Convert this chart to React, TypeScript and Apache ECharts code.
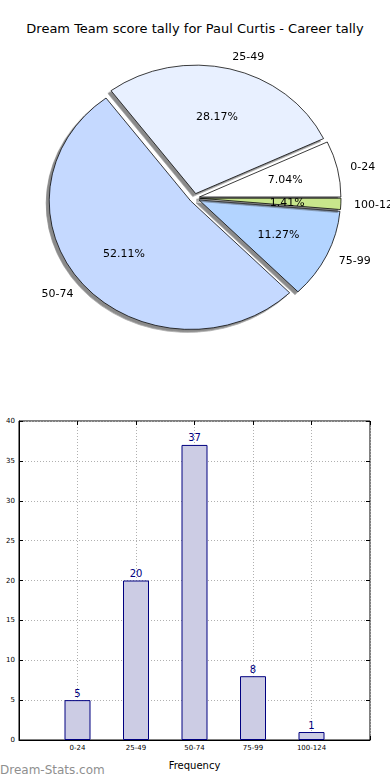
import React, { useEffect, useRef } from "react";
import * as echarts from "echarts";

const categories = ["0-24", "25-49", "50-74", "75-99", "100-124"];
const counts = [5, 20, 37, 8, 1];
const sliceColors = ["#ffffff", "#e8f0ff", "#c5d9ff", "#b3d4ff", "#c8e68c"];
const yTicks = [0, 5, 10, 15, 20, 25, 30, 35, 40];

const FONT = "DejaVu Sans";
const PIE_CX = 194.5;
const PIE_CY = 198;
const PIE_R = 141.5;
const PIE_SCALE_Y = 0.908;

export default function App() {
  const mainRef = useRef<HTMLDivElement>(null);
  const pieRef = useRef<HTMLDivElement>(null);
  useEffect(() => {
    document.body.style.margin = "0";
    const chart = echarts.init(mainRef.current!, null, { renderer: "svg" });
    const pie = echarts.init(pieRef.current!, null, { renderer: "svg" });
    const R = PIE_R;
    const center = [PIE_CX, PIE_CY];
    const pieData = categories.map((c, i) => ({
      name: c,
      value: counts[i],
      selected: true,
      itemStyle: { color: sliceColors[i] },
    }));
    const option: any = {
      animation: false,
      backgroundColor: "#ffffff",
      title: {
        text: "Dream Team score tally for Paul Curtis - Career tally",
        left: "center",
        top: 17,
        textStyle: { fontFamily: FONT, fontSize: 13, fontWeight: "normal", color: "#000" },
      },
      graphic: [
        {
          type: "text",
          left: 0,
          top: 764,
          style: {
            text: "Dream-Stats.com",
            fontFamily: FONT,
            fontSize: 12,
            fontWeight: "normal",
            fill: "#8f8f8f",
          },
        },
      ],
      grid: {
        left: 19,
        right: 20,
        top: 421,
        bottom: 40,
        show: true,
        borderColor: "#000",
        borderWidth: 1,
        backgroundColor: "transparent",
      },
      xAxis: [
        {
          type: "value",
          min: -1,
          max: 5,
          interval: 1,
          position: "bottom",
          axisLine: { show: true, onZero: false, lineStyle: { color: "#000" } },
          axisTick: { show: true, inside: true, length: 4, lineStyle: { color: "#000" } },
          axisLabel: {
            fontFamily: FONT,
            fontSize: 7,
            color: "#000",
            margin: 4,
            formatter: (v: number) => (categories[v] !== undefined ? categories[v] : ""),
          },
          splitLine: { show: true, lineStyle: { color: "#b0b0b0", type: [1, 2], width: 1 } },
          name: "Frequency",
          nameLocation: "middle",
          nameGap: 20,
          nameTextStyle: { fontFamily: FONT, fontSize: 10, color: "#000" },
        },
        {
          type: "value",
          min: -1,
          max: 5,
          interval: 1,
          position: "top",
          axisLine: { show: false, onZero: false },
          axisTick: { show: true, inside: true, length: 4, lineStyle: { color: "#000" } },
          axisLabel: { show: false },
          splitLine: { show: false },
        },
      ],
      yAxis: [
        {
          type: "value",
          min: 0,
          max: 40,
          interval: 5,
          position: "left",
          axisLine: { show: true, onZero: false, lineStyle: { color: "#000" } },
          axisTick: { show: true, inside: true, length: 4, lineStyle: { color: "#000" } },
          axisLabel: {
            fontFamily: FONT,
            fontSize: 7,
            color: "#000",
            margin: 4,
            formatter: (v: number) => (yTicks.includes(v) ? String(v) : ""),
          },
          splitLine: { show: true, lineStyle: { color: "#b0b0b0", type: [1, 2], width: 1 } },
        },
        {
          type: "value",
          min: 0,
          max: 40,
          interval: 5,
          position: "right",
          axisLine: { show: false, onZero: false },
          axisTick: { show: true, inside: true, length: 4, lineStyle: { color: "#000" } },
          axisLabel: { show: false },
          splitLine: { show: false },
        },
      ],
      series: [
        {
          type: "bar",
          xAxisIndex: 0,
          yAxisIndex: 0,
          data: counts.map((v, i) => [i, v]),
          barWidth: 26,
          itemStyle: { color: "#ccccE4", borderColor: "#000080", borderWidth: 1 },
          label: {
            show: true,
            position: "top",
            distance: 2,
            fontFamily: FONT,
            fontSize: 10,
            color: "#000080",
          },
          emphasis: { disabled: true },
          z: 1,
        },
      ],
    };
    const pieOption: any = {
      animation: false,
      series: [
        {
          type: "pie",
          center,
          radius: [0, R],
          startAngle: 0,
          clockwise: false,
          selectedMode: "multiple",
          selectedOffset: 5,
          avoidLabelOverlap: false,
          data: pieData,
          itemStyle: {
            borderColor: "#000",
            borderWidth: 0.8,
            shadowColor: "rgba(60,60,60,0.6)",
            shadowOffsetX: -3,
            shadowOffsetY: 3,
            shadowBlur: 0.5,
          },
          label: {
            show: true,
            position: "outside",
            formatter: "{b}",
            fontFamily: FONT,
            fontSize: 11,
            color: "#000",
            distanceToLabelLine: -1,
          },
          labelLine: { show: false, length: R * 0.1, length2: 0 },
          emphasis: { disabled: true },
          select: { itemStyle: { borderColor: "#000", borderWidth: 0.8 } },
          silent: true,
        },
        {
          type: "pie",
          center,
          radius: [R * 0.2, R],
          startAngle: 0,
          clockwise: false,
          selectedMode: "multiple",
          selectedOffset: 5,
          avoidLabelOverlap: false,
          data: categories.map((c, i) => ({ name: c, value: counts[i], selected: true })),
          itemStyle: { color: "transparent", borderWidth: 0 },
          select: { itemStyle: { color: "transparent", borderWidth: 0 } },
          label: {
            show: true,
            position: "inside",
            formatter: "{d}%",
            fontFamily: FONT,
            fontSize: 11,
            color: "#000",
          },
          labelLine: { show: false },
          emphasis: { disabled: true },
          silent: true,
        },
      ],
    };
    chart.setOption(option);
    pie.setOption(pieOption);
    return () => {
      chart.dispose();
      pie.dispose();
    };
  }, []);
  return (
    <div style={{ position: "absolute", left: 0, top: 0, width: 390, height: 780 }}>
      <div
        ref={mainRef}
        style={{ position: "absolute", left: 0, top: 0, width: 390, height: 780 }}
      />
      <div
        ref={pieRef}
        style={{
          position: "absolute",
          left: 0,
          top: 0,
          width: 390,
          height: 400,
          transform: `scaleY(${PIE_SCALE_Y})`,
          transformOrigin: `${PIE_CX}px ${PIE_CY}px`,
          pointerEvents: "none",
        }}
      />
    </div>
  );
}
